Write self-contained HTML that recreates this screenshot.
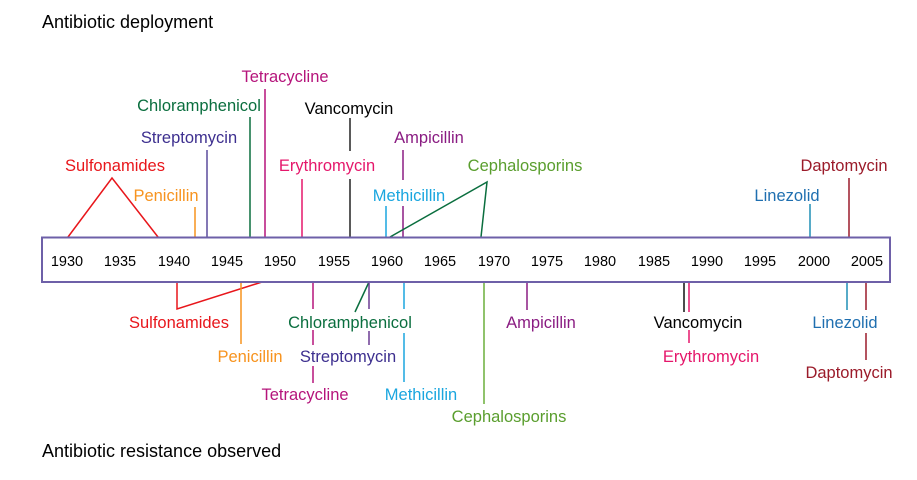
<!DOCTYPE html>
<html><head><meta charset="utf-8"><style>
html,body{margin:0;padding:0;background:#fff;}
svg{display:block;}
text{font-family:"Liberation Sans",Arial,sans-serif;font-size:16.5px;}
.t{font-size:18px;}
.y{font-size:14.5px;}
</style></head><body>
<svg width="917" height="480" viewBox="0 0 917 480" xmlns="http://www.w3.org/2000/svg">
<text class="t" x="42" y="28" fill="#000">Antibiotic deployment</text>
<text class="t" x="42" y="457" fill="#000">Antibiotic resistance observed</text>

<g fill="none" stroke-width="1.5">
<polyline points="68,237 112,178 158,237" stroke="#e8161b"/>
<line x1="195" y1="207" x2="195" y2="237" stroke="#f7931e"/>
<line x1="207" y1="150" x2="207" y2="237" stroke="#5a4a9c"/>
<line x1="250" y1="117" x2="250" y2="237" stroke="#0a6e3e"/>
<line x1="265" y1="89" x2="265" y2="237" stroke="#b5147b"/>
<line x1="302" y1="179" x2="302" y2="237" stroke="#e5176b"/>
<line x1="350" y1="118" x2="350" y2="151" stroke="#222"/>
<line x1="350" y1="179" x2="350" y2="237" stroke="#222"/>
<line x1="403" y1="150" x2="403" y2="180" stroke="#8a1c82"/>
<line x1="403" y1="206" x2="403" y2="237" stroke="#8a1c82"/>
<line x1="386" y1="206" x2="386" y2="237" stroke="#1aa6df"/>
<polyline points="390,237 487,182 481,237" stroke="#0a6e3e"/>
<line x1="810" y1="204" x2="810" y2="237" stroke="#1f8fb5"/>
<line x1="849" y1="178" x2="849" y2="237" stroke="#9b1b2a"/>
<polyline points="262,282 177,309 177,282" stroke="#e8161b"/>
<line x1="241" y1="282" x2="241" y2="344" stroke="#f7931e"/>
<line x1="313" y1="282" x2="313" y2="309" stroke="#b5147b"/>
<line x1="313" y1="330" x2="313" y2="345" stroke="#b5147b"/>
<line x1="313" y1="366" x2="313" y2="383" stroke="#b5147b"/>
<line x1="369" y1="282" x2="355" y2="312" stroke="#0a6e3e"/>
<line x1="369" y1="282" x2="369" y2="309" stroke="#6a3a92"/>
<line x1="369" y1="331" x2="369" y2="345" stroke="#6a3a92"/>
<line x1="404" y1="282" x2="404" y2="309" stroke="#1aa6df"/>
<line x1="404" y1="333" x2="404" y2="382" stroke="#1aa6df"/>
<line x1="484" y1="282" x2="484" y2="404" stroke="#6aaf3a"/>
<line x1="527" y1="282" x2="527" y2="310" stroke="#8a1c82"/>
<line x1="684" y1="282" x2="684" y2="312" stroke="#111"/>
<line x1="689" y1="282" x2="689" y2="312" stroke="#e5176b"/>
<line x1="689" y1="330" x2="689" y2="343" stroke="#e5176b"/>
<line x1="847" y1="282" x2="847" y2="310" stroke="#1f8fb5"/>
<line x1="866" y1="282" x2="866" y2="310" stroke="#9b1b2a"/>
<line x1="866" y1="333" x2="866" y2="360" stroke="#9b1b2a"/>
</g>

<rect x="42" y="237.5" width="848" height="44.5" fill="#fff" stroke="#6e60a8" stroke-width="2"/>
<g text-anchor="middle" fill="#000">
<text class="y" x="67" y="266">1930</text><text class="y" x="120" y="266">1935</text><text class="y" x="174" y="266">1940</text>
<text class="y" x="227" y="266">1945</text><text class="y" x="280" y="266">1950</text><text class="y" x="334" y="266">1955</text>
<text class="y" x="387" y="266">1960</text><text class="y" x="440" y="266">1965</text><text class="y" x="494" y="266">1970</text>
<text class="y" x="547" y="266">1975</text><text class="y" x="600" y="266">1980</text><text class="y" x="654" y="266">1985</text>
<text class="y" x="707" y="266">1990</text><text class="y" x="760" y="266">1995</text><text class="y" x="814" y="266">2000</text>
<text class="y" x="867" y="266">2005</text>
</g>

<g text-anchor="middle">
<text x="115" y="171" fill="#e8161b">Sulfonamides</text>
<text x="166" y="201" fill="#f7931e">Penicillin</text>
<text x="189" y="143" fill="#3d2f8f">Streptomycin</text>
<text x="199" y="111" fill="#0a6e3e">Chloramphenicol</text>
<text x="285" y="82" fill="#b5147b">Tetracycline</text>
<text x="327" y="171" fill="#e5176b">Erythromycin</text>
<text x="349" y="114" fill="#000">Vancomycin</text>
<text x="429" y="143" fill="#8a1c82">Ampicillin</text>
<text x="409" y="201" fill="#1aa6df">Methicillin</text>
<text x="525" y="171" fill="#5a9e2e">Cephalosporins</text>
<text x="787" y="201" fill="#1f6fb0">Linezolid</text>
<text x="844" y="171" fill="#9b1b2a">Daptomycin</text>

<text x="179" y="328" fill="#e8161b">Sulfonamides</text>
<text x="250" y="362" fill="#f7931e">Penicillin</text>
<text x="305" y="400" fill="#b5147b">Tetracycline</text>
<text x="350" y="328" fill="#0a6e3e">Chloramphenicol</text>
<text x="348" y="362" fill="#3d2f8f">Streptomycin</text>
<text x="421" y="400" fill="#1aa6df">Methicillin</text>
<text x="509" y="422" fill="#5a9e2e">Cephalosporins</text>
<text x="541" y="328" fill="#8a1c82">Ampicillin</text>
<text x="698" y="328" fill="#000">Vancomycin</text>
<text x="711" y="362" fill="#e5176b">Erythromycin</text>
<text x="845" y="328" fill="#1f6fb0">Linezolid</text>
<text x="849" y="378" fill="#9b1b2a">Daptomycin</text>
</g>
</svg>
</body></html>
